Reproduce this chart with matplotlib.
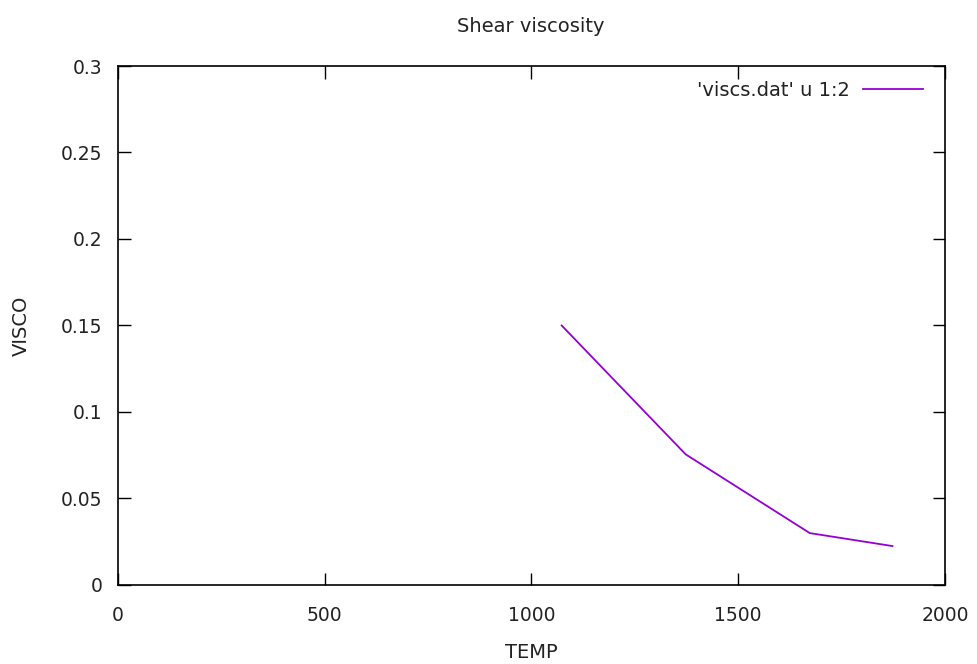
import matplotlib
matplotlib.use("Agg")
import matplotlib.pyplot as plt

# data
temp = [1073, 1373, 1673, 1873]
visco = [0.150, 0.0755, 0.030, 0.0225]
x_ticks = [0, 500, 1000, 1500, 2000]
y_ticks = [0, 0.05, 0.1, 0.15, 0.2, 0.25, 0.3]
y_labels = ["0", "0.05", "0.1", "0.15", "0.2", "0.25", "0.3"]

plt.rcParams["font.family"] = ["DejaVu Sans"]

TXT = "#222222"

fig = plt.figure(figsize=(9.77, 6.64), dpi=100)
ax = fig.add_axes([0.1208, 0.119, 0.8464, 0.7816])

ax.plot(temp, visco, color="#9400d3", lw=1.3, label="'viscs.dat' u 1:2")

ax.set_xlim(0, 2000)
ax.set_ylim(0, 0.3)
ax.set_xticks(x_ticks)
ax.set_yticks(y_ticks)
ax.set_yticklabels(y_labels)
ax.tick_params(direction="in", length=9, width=1, top=True, right=True,
               colors="black", labelcolor=TXT, labelsize=13.5)
ax.tick_params(axis="x", pad=15)
ax.tick_params(axis="y", pad=11)
for s in ax.spines.values():
    s.set_linewidth(1.2)

# title and axis labels
fig.text(531 / 977, 1 - 27 / 664, "Shear viscosity", fontsize=14,
         ha="center", va="center", color=TXT)
ax.set_xlabel("TEMP", fontsize=14, color=TXT, va="center")
ax.xaxis.set_label_coords(0.5, -68 / 519)
ax.set_ylabel("VISCO", fontsize=14, color=TXT, va="center")
ax.yaxis.set_label_coords(-97 / 827, 0.5)

leg = ax.legend(loc="center right", bbox_to_anchor=((923 - 118) / 827, (585 - 90) / 519),
                frameon=False, markerfirst=False, handlelength=3.1,
                handletextpad=0.67, borderaxespad=0, borderpad=0, fontsize=14)
for t in leg.get_texts():
    t.set_color(TXT)

fig.savefig("out.png", dpi=100)
